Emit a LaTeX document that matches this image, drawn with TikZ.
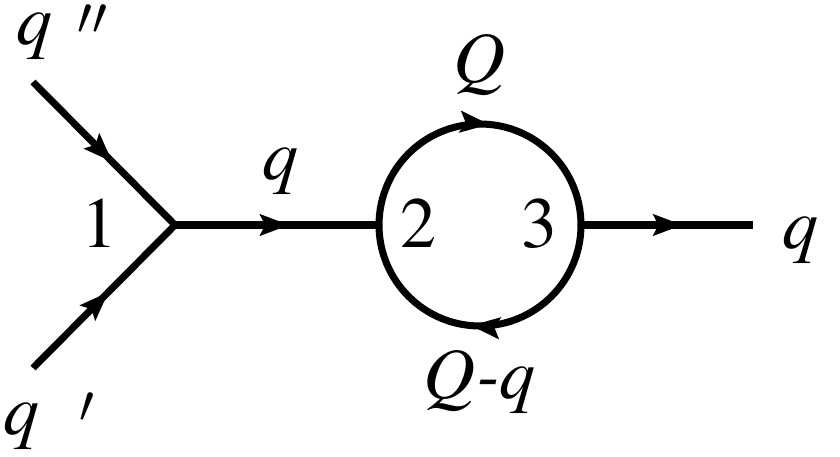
\documentclass[tikz,border=0pt]{standalone}
\usepackage[T1]{fontenc}
\usepackage{mathptmx}
\usetikzlibrary{arrows.meta,decorations.markings}
\begin{document}
\begin{tikzpicture}[
  line width=2pt,
  lbl/.style={inner sep=0pt,font=\fontsize{20.5}{24}\selectfont},
  fermtip/.tip={Stealth[length=2.9mm,width=2.1mm,inset=0.5mm]},
  fline/.style={postaction={decorate},decoration={markings,
    mark=at position #1 with {\arrow{fermtip}}}}
]
\useasboundingbox (0,0) rectangle (8.4,4.56);

% Vertices and end points
\coordinate (in1) at (0.33,3.74);
\coordinate (in2) at (0.33,0.88);
\coordinate (v1) at (1.75,2.31);
\coordinate (c) at (4.80,2.31);
\coordinate (v2) at (3.79,2.31);
\coordinate (v3) at (5.81,2.31);
\coordinate (out) at (7.53,2.31);

% Incoming lines meeting at vertex 1
\draw[line join=miter,postaction={decorate},decoration={markings,
  mark=at position 0.28 with {\arrow{fermtip}},
  mark=at position 0.735 with {\arrowreversed{fermtip}}}]
  (in1) -- (v1) -- (in2);

% Propagators
\draw[fline=0.56] (v1) -- (v2);
\draw[fline=0.59] (v3) -- (out);

% Loop
\draw[fline=0.53] (v2) arc (180:0:1.01);
\draw[fline=0.53] (v3) arc (0:-180:1.01);

% Labels
\node[lbl,anchor=base west] (lqa) at (0.13,4.11) {\itshape q\kern0.35em\raisebox{-0.22em}{$^{\prime\prime}$}};
\node[lbl,anchor=base west] (lqb) at (0.0,0.22) {\itshape q\kern0.55em\raisebox{-0.2em}{$^{\prime}$}};
\node[lbl,anchor=base] (n1) at (1.00,2.08) {1};
\node[lbl,anchor=base] (n2) at (4.19,2.08) {2};
\node[lbl,anchor=base] (n3) at (5.40,2.08) {3};
\node[lbl,anchor=base] (lq1) at (2.81,2.76) {\itshape q};
\node[lbl,anchor=base] (lQ) at (4.80,3.73) {\itshape Q};
\node[lbl,anchor=base] (lQq) at (4.80,0.58) {\itshape Q-q};
\node[lbl,anchor=base] (lq2) at (8.01,2.07) {\itshape q};
\end{tikzpicture}
\end{document}
